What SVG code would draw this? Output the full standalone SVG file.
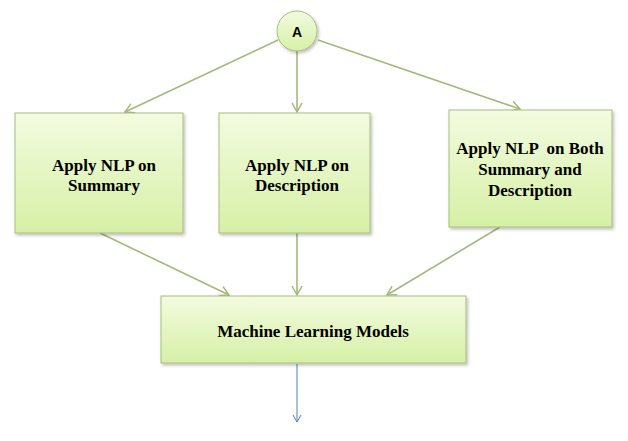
<svg xmlns="http://www.w3.org/2000/svg" width="628" height="441" viewBox="0 0 628 441">
<defs>
<linearGradient id="g" x1="0" y1="0" x2="0" y2="1">
<stop offset="0" stop-color="#f3fbe0"/>
<stop offset="1" stop-color="#d6f0a6"/>
</linearGradient>
<filter id="sh" x="-10%" y="-10%" width="130%" height="130%">
<feDropShadow dx="1.5" dy="2" stdDeviation="1.5" flood-color="#000" flood-opacity="0.25"/>
</filter>
<marker id="ah" markerWidth="12" markerHeight="12" refX="10" refY="6" orient="auto" markerUnits="userSpaceOnUse">
<path d="M1,1 L10,6 L1,11" fill="none" stroke="#a4b87a" stroke-width="1.5"/>
</marker>
<marker id="bh" markerWidth="10" markerHeight="10" refX="8" refY="5" orient="auto" markerUnits="userSpaceOnUse">
<path d="M1,1 L8,5 L1,9" fill="none" stroke="#4f81bd" stroke-width="1"/>
</marker>
</defs>
<style>
.n{fill:url(#g);stroke:#a7bd7c;stroke-width:1;filter:url(#sh)}
.t{font-family:'Liberation Serif','Times New Roman',serif;font-weight:bold;font-size:17px;fill:#000;text-anchor:middle}
.c{stroke:#a4b87a;stroke-width:1.6;fill:none;marker-end:url(#ah)}
</style>
<rect width="628" height="441" fill="#fff"/>
<g id="connectors">
<line class="c" x1="278" y1="40" x2="125" y2="112"/>
<line class="c" x1="297" y1="51" x2="297" y2="112"/>
<line class="c" x1="318" y1="40" x2="520" y2="109"/>
<line class="c" x1="100" y1="233" x2="229" y2="295"/>
<line class="c" x1="297" y1="233" x2="297" y2="295"/>
<line class="c" x1="500" y1="227" x2="387" y2="295"/>
<line x1="297" y1="364" x2="297" y2="422" stroke="#4f81bd" stroke-width="1" marker-end="url(#bh)"/>
</g>
<g id="nodeA">
<circle class="n" cx="297" cy="31" r="20"/>
<text x="297" y="37" font-family="Liberation Sans, Arial, sans-serif" font-weight="bold" font-size="14" text-anchor="middle">A</text>
</g>
<g id="node1">
<rect class="n" x="15" y="113" width="168" height="120"/>
<text class="t" x="104" y="171">Apply NLP on</text>
<text class="t" x="104" y="191">Summary</text>
</g>
<g id="node2">
<rect class="n" x="219" y="113" width="151" height="120"/>
<text class="t" x="297" y="171">Apply NLP on</text>
<text class="t" x="297" y="191">Description</text>
</g>
<g id="node3">
<rect class="n" x="449" y="110" width="163" height="117"/>
<text class="t" x="530" y="154" xml:space="preserve">Apply NLP  on Both</text>
<text class="t" x="530" y="175">Summary and</text>
<text class="t" x="530" y="196">Description</text>
</g>
<g id="node4">
<rect class="n" x="161" y="296" width="305" height="67"/>
<text class="t" x="313" y="337">Machine Learning Models</text>
</g>
</svg>
